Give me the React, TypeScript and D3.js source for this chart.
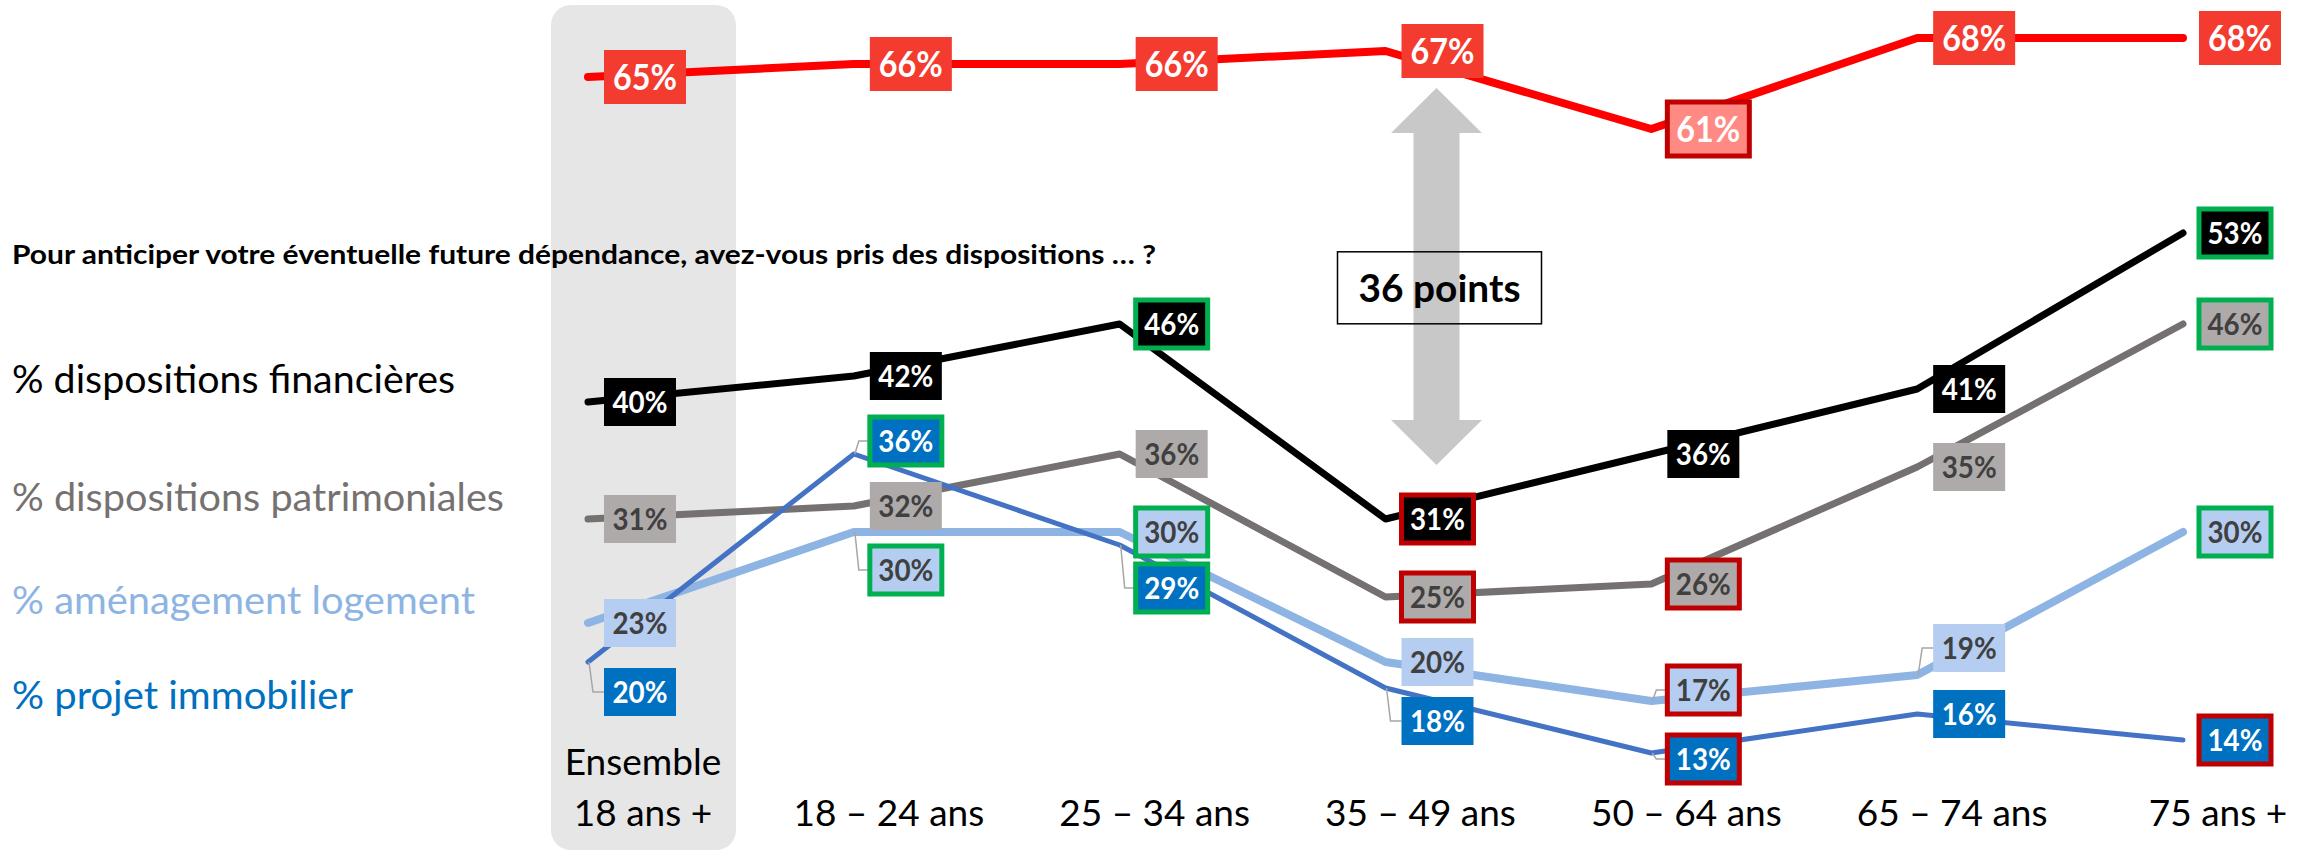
import React from 'react';
import * as d3 from 'd3';

// categories (x axis)
const categories = ['Ensemble', '18 – 24 ans', '25 – 34 ans', '35 – 49 ans', '50 – 64 ans', '65 – 74 ans', '75 ans +'];
const ensembleSub = '18 ans +';

// series values (%)
const totalValues = [65, 66, 66, 67, 61, 68, 68];
const financieresValues = [40, 42, 46, 31, 36, 41, 53];
const patrimonialesValues = [31, 32, 36, 25, 26, 35, 46];
const logementValues = [23, 30, 30, 20, 17, 19, 30];
const immobilierValues = [20, 36, 29, 18, 13, 16, 14];

// significance vs ensemble: '+' higher, '-' lower
const totalSig = ['', '', '', '', '-', '', ''];
const financieresSig = ['', '', '+', '-', '', '', '+'];
const patrimonialesSig = ['', '', '', '-', '-', '', '+'];
const logementSig = ['', '+', '+', '', '-', '', '+'];
const immobilierSig = ['', '+', '+', '', '-', '', '-'];

// vertical shift of some labels (to avoid overlaps)
const logementShift = [0, 38, 0, 0, -11, -27, 0];
const immobilierShift = [30, -13, 43, 33, 6, 0, 0];
const noShift = [0, 0, 0, 0, 0, 0, 0];

const title = 'Pour anticiper votre éventuelle future dépendance, avez-vous pris des dispositions … ?';
const legendNames = ['% dispositions financières', '% dispositions patrimoniales', '% aménagement logement', '% projet immobilier'];
const gapLabel = '36 points';

const FONT = "Lato, 'Open Sans', sans-serif";
const W = 2303;
const H = 852;

const series = [
  { key: 'total', values: totalValues, sig: totalSig, shift: noShift, color: '#FF0000', width: 8, fill: '#F43B30', lowFill: '#FF8A84', text: '#FFFFFF', big: true },
  { key: 'fin', values: financieresValues, sig: financieresSig, shift: noShift, color: '#000000', width: 7, fill: '#000000', lowFill: '#000000', text: '#FFFFFF', big: false },
  { key: 'pat', values: patrimonialesValues, sig: patrimonialesSig, shift: noShift, color: '#767171', width: 7, fill: '#AEAAAA', lowFill: '#AEAAAA', text: '#404040', big: false },
  { key: 'log', values: logementValues, sig: logementSig, shift: logementShift, color: '#8DB4E2', width: 8, fill: '#B4CDF0', lowFill: '#B4CDF0', text: '#404040', big: false },
  { key: 'immo', values: immobilierValues, sig: immobilierSig, shift: immobilierShift, color: '#4472C4', width: 5, fill: '#0070C0', lowFill: '#0070C0', text: '#FFFFFF', big: false },
];

const legend = [
  { name: legendNames[0], color: '#000000', y: 393, len: 443 },
  { name: legendNames[1], color: '#767171', y: 511, len: 492 },
  { name: legendNames[2], color: '#8DB4E2', y: 614, len: 463 },
  { name: legendNames[3], color: '#0070C0', y: 709, len: 341 },
];

export default function App() {
  const x = d3.scalePoint<string>().domain(categories).range([588, 2183]);
  const y = d3.scaleLinear().domain([0, 70]).range([922, 12]);

  const line = d3
    .line<number>()
    .x((d, i) => x(categories[i]) as number)
    .y(d => y(d));

  const x0 = x(categories[0]) as number;

  // arrow between red and black at 35-49
  const gi = 3;
  const gx = (x(categories[gi]) as number) + 51;
  const top = y(totalValues[gi]) + 37;
  const bottom = y(financieresValues[gi]) - 54;
  const sw = 23, hw = 45.5, hl = 45;
  const arrow = [
    [gx, top], [gx + hw, top + hl], [gx + sw, top + hl], [gx + sw, bottom - hl], [gx + hw, bottom - hl],
    [gx, bottom], [gx - hw, bottom - hl], [gx - sw, bottom - hl], [gx - sw, top + hl], [gx - hw, top + hl],
  ].map(p => p.join(',')).join(' ');
  const boxMid = top + (bottom - top) * 0.53;

  return (
    <svg width={W} height={H} style={{ position: 'absolute', left: 0, top: 0, background: '#fff' }} fontFamily={FONT}>
      <rect x={x0 - 37} y={5} width={185} height={845} rx={20} fill="#E6E6E6" />

      <text x={12} y={264} fontSize={27} fontWeight={700} fill="#000" textLength={1144} lengthAdjust="spacingAndGlyphs">{title}</text>

      {legend.map(l => (
        <text key={l.name} x={12} y={l.y} fontSize={38} fill={l.color} textLength={l.len} lengthAdjust="spacingAndGlyphs">{l.name}</text>
      ))}

      {categories.map((c, i) => {
        const cx = (x(c) as number) + (i === 0 ? 55 : 35);
        return i === 0 ? (
          <g key={c}>
            <text x={cx} y={775} fontSize={37} textAnchor="middle" fill="#000">{c}</text>
            <text x={cx} y={826} fontSize={37} textAnchor="middle" fill="#000">{ensembleSub}</text>
          </g>
        ) : (
          <text key={c} x={cx} y={826} fontSize={37} textAnchor="middle" fill="#000">{c}</text>
        );
      })}

      <polygon points={arrow} fill="#C8C8C8" />
      <rect x={gx - 99} y={boxMid - 36} width={204} height={72} fill="none" stroke="#000" strokeWidth={1.5} />

      {series.map(s => (
        <path key={s.key} d={line(s.values) || ''} fill="none" stroke={s.color} strokeWidth={s.width} strokeLinejoin="round" strokeLinecap="round" />
      ))}

      {series.map(s => (
        <g key={s.key + '-labels'}>
          {s.values.map((v, i) => {
            const vx = x(categories[i]) as number;
            const vy = y(v);
            const bw = s.big ? 82 : 72;
            const bh = s.big ? 54 : 48;
            const cy = vy + s.shift[i];
            const left = vx + 16;
            const border = s.sig[i] === '+' ? '#00B050' : s.sig[i] === '-' ? '#C00000' : 'none';
            const fill = s.sig[i] === '-' ? s.lowFill : s.fill;
            return (
              <g key={i}>
                {s.shift[i] !== 0 && (
                  <polyline points={`${vx + 1},${vy} ${vx + 5},${cy} ${left},${cy}`} fill="none" stroke="#A6A6A6" strokeWidth={1.5} />
                )}
                <rect x={left} y={cy - bh / 2} width={bw} height={bh} fill={fill} stroke={border} strokeWidth={5} />
                <text x={left + bw / 2} y={cy} dy="0.36em" textAnchor="middle" fontSize={s.big ? 36 : 30} fontWeight={700} fill={s.text} textLength={s.big ? 64 : 55} lengthAdjust="spacingAndGlyphs">{v}%</text>
              </g>
            );
          })}
        </g>
      ))}

      <text x={gx + 3} y={boxMid + 14} fontSize={38} fontWeight={700} textAnchor="middle" fill="#000" textLength={162} lengthAdjust="spacingAndGlyphs">{gapLabel}</text>
    </svg>
  );
}
